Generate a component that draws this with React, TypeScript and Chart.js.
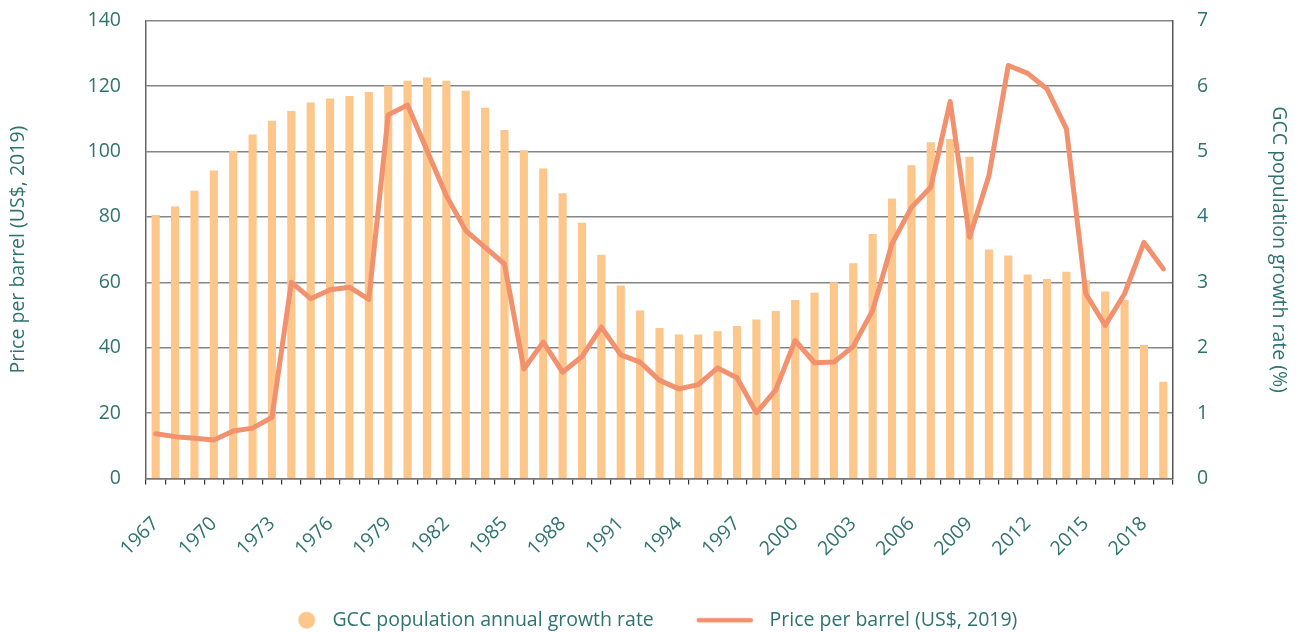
import React, { useEffect, useRef } from 'react';
import { Chart, registerables } from 'chart.js';

Chart.register(...registerables);

const YEARS = [
  '1967', '1968', '1969', '1970', '1971', '1972', '1973', '1974', '1975', '1976', '1977', '1978',
  '1979', '1980', '1981', '1982', '1983', '1984', '1985', '1986', '1987', '1988', '1989', '1990',
  '1991', '1992', '1993', '1994', '1995', '1996', '1997', '1998', '1999', '2000', '2001', '2002',
  '2003', '2004', '2005', '2006', '2007', '2008', '2009', '2010', '2011', '2012', '2013', '2014',
  '2015', '2016', '2017', '2018', '2019',
];

// GCC population annual growth rate (%), right axis
const GROWTH_RATE = [
  4.03, 4.16, 4.4, 4.71, 5.01, 5.26, 5.47, 5.62, 5.75, 5.81, 5.85, 5.91,
  6.01, 6.08, 6.13, 6.08, 5.93, 5.67, 5.33, 5.02, 4.74, 4.36, 3.91, 3.42,
  2.95, 2.57, 2.3, 2.2, 2.2, 2.25, 2.33, 2.43, 2.56, 2.73, 2.84, 3.0,
  3.29, 3.74, 4.28, 4.79, 5.14, 5.19, 4.92, 3.5, 3.41, 3.12, 3.05, 3.16,
  3.03, 2.86, 2.73, 2.04, 1.48,
];

// Price per barrel (US$, 2019), left axis
const OIL_PRICE = [
  13.7, 12.8, 12.3, 11.8, 14.5, 15.4, 18.7, 60.0, 55.0, 57.7, 58.5, 54.8,
  111.2, 114.2, 100.3, 86.5, 75.8, 70.7, 65.6, 33.5, 41.7, 32.5, 37.3, 46.3,
  37.8, 35.6, 30.0, 27.4, 28.7, 33.8, 30.8, 20.1, 27.1, 42.2, 35.4, 35.6,
  40.4, 51.4, 71.8, 82.9, 89.1, 115.3, 73.8, 92.6, 126.3, 123.9, 119.1, 106.9,
  56.5, 46.8, 56.5, 72.2, 64.1,
];

const LEFT_AXIS = { min: 0, max: 140, step: 20 };
const RIGHT_AXIS = { min: 0, max: 7, step: 1 };
const LABEL_EVERY = 3;

const TEAL = '#2f7370';
const BAR_COLOR = '#fdc68a';
const LINE_COLOR = '#f2916e';
const FONT_FAMILY = '"Open Sans", "Noto Sans", sans-serif';

function makeDot(): HTMLCanvasElement {
  const c = document.createElement('canvas');
  c.width = 56;
  c.height = 20;
  const ctx = c.getContext('2d')!;
  ctx.fillStyle = BAR_COLOR;
  ctx.beginPath();
  ctx.arc(47, 10, 8.5, 0, Math.PI * 2);
  ctx.fill();
  return c;
}

function makeLine(): HTMLCanvasElement {
  const c = document.createElement('canvas');
  c.width = 58;
  c.height = 8;
  const ctx = c.getContext('2d')!;
  ctx.strokeStyle = LINE_COLOR;
  ctx.lineWidth = 4.5;
  ctx.lineCap = 'round';
  ctx.beginPath();
  ctx.moveTo(3, 4);
  ctx.lineTo(55, 4);
  ctx.stroke();
  return c;
}

// nudges the bottom legend horizontally so its items sit where the original's do
const legendShift = {
  id: 'legendShift',
  afterLayout(chart: any) {
    const lg = chart.legend;
    if (lg) {
      lg.left -= 14;
      lg.right -= 14;
    }
  },
};

export default function App() {
  const ref = useRef<HTMLCanvasElement>(null);

  useEffect(() => {
    document.body.style.margin = '0';
    const dot = makeDot();
    const lineImg = makeLine();
    const font = { family: FONT_FAMILY, size: 19.5 };

    const chart = new Chart(ref.current!, {
      type: 'bar',
      data: {
        labels: YEARS,
        datasets: [
          {
            type: 'bar',
            label: 'GCC population annual growth rate',
            data: GROWTH_RATE,
            backgroundColor: BAR_COLOR,
            yAxisID: 'y1',
            order: 1,
            categoryPercentage: 1,
            barPercentage: 0.42,
          } as any,
          {
            type: 'line',
            label: 'Price per barrel (US$, 2019)',
            data: OIL_PRICE,
            borderColor: LINE_COLOR,
            backgroundColor: LINE_COLOR,
            borderWidth: 5,
            pointRadius: 0,
            tension: 0,
            borderJoinStyle: 'round',
            borderCapStyle: 'round',
            yAxisID: 'y',
            order: 0,
          } as any,
        ],
      },
      plugins: [legendShift],
      options: {
        responsive: false,
        animation: false,
        layout: { padding: { top: 0, left: 0, right: 0, bottom: 0 } },
        plugins: {
          tooltip: { enabled: false },
          legend: {
            display: true,
            position: 'bottom',
            labels: {
              usePointStyle: true,
              pointStyleWidth: 70,
              padding: 36,
              color: TEAL,
              font,
              generateLabels: (c: any) => {
                const items = Chart.defaults.plugins.legend.labels.generateLabels(c);
                items.forEach((it: any) => {
                  it.pointStyle = it.datasetIndex === 0 ? dot : lineImg;
                  it.fontColor = TEAL;
                  it.lineWidth = 0;
                });
                return items.sort((a: any, b: any) => a.datasetIndex - b.datasetIndex);
              },
            },
          },
        },
        scales: {
          x: {
            offset: true,
            grid: {
              display: true,
              drawOnChartArea: false,
              drawTicks: true,
              tickLength: 6,
              color: '#333333',
              lineWidth: 1.2,
              offset: true,
            },
            border: { display: true, color: '#777777', width: 1.5 },
            ticks: {
              autoSkip: false,
              minRotation: 45,
              maxRotation: 45,
              color: TEAL,
              font,
              padding: 28,
              callback: (_v: any, i: number) => (i % LABEL_EVERY === 0 ? YEARS[i] : ''),
            },
            afterFit: (s: any) => {
              s.height = 96;
            },
          },
          y: {
            position: 'left',
            min: LEFT_AXIS.min,
            max: LEFT_AXIS.max,
            ticks: { stepSize: LEFT_AXIS.step, color: TEAL, font, padding: 9 },
            grid: { color: '#858585', lineWidth: 1.5, drawTicks: true, tickLength: 16, tickColor: 'rgba(0,0,0,0)' },
            border: { display: true, color: '#666666', width: 1.5 },
            title: {
              display: true,
              text: 'Price per barrel (US$, 2019)',
              color: TEAL,
              font,
              padding: { top: 6.5, bottom: 0 },
            },
            afterFit: (s: any) => {
              s.width = 146;
            },
          },
          y1: {
            position: 'right',
            min: RIGHT_AXIS.min,
            max: RIGHT_AXIS.max,
            ticks: { stepSize: RIGHT_AXIS.step, color: TEAL, font, padding: 9 },
            grid: { drawOnChartArea: false, drawTicks: true, tickLength: 15, tickColor: 'rgba(0,0,0,0)' },
            border: { display: true, color: '#555555', width: 1.5 },
            title: {
              display: true,
              text: 'GCC population growth rate (%)',
              color: TEAL,
              font,
              padding: { top: 8, bottom: 0 },
            },
            afterFit: (s: any) => {
              s.width = 125;
            },
          },
        },
      } as any,
    });

    return () => chart.destroy();
  }, []);

  return (
    <div style={{ position: 'fixed', left: 0, top: 0, width: 1298, height: 632, overflow: 'hidden', background: '#fff' }}>
      <canvas ref={ref} width={1298} height={640} style={{ display: 'block', width: 1298, height: 640 }} />
    </div>
  );
}
